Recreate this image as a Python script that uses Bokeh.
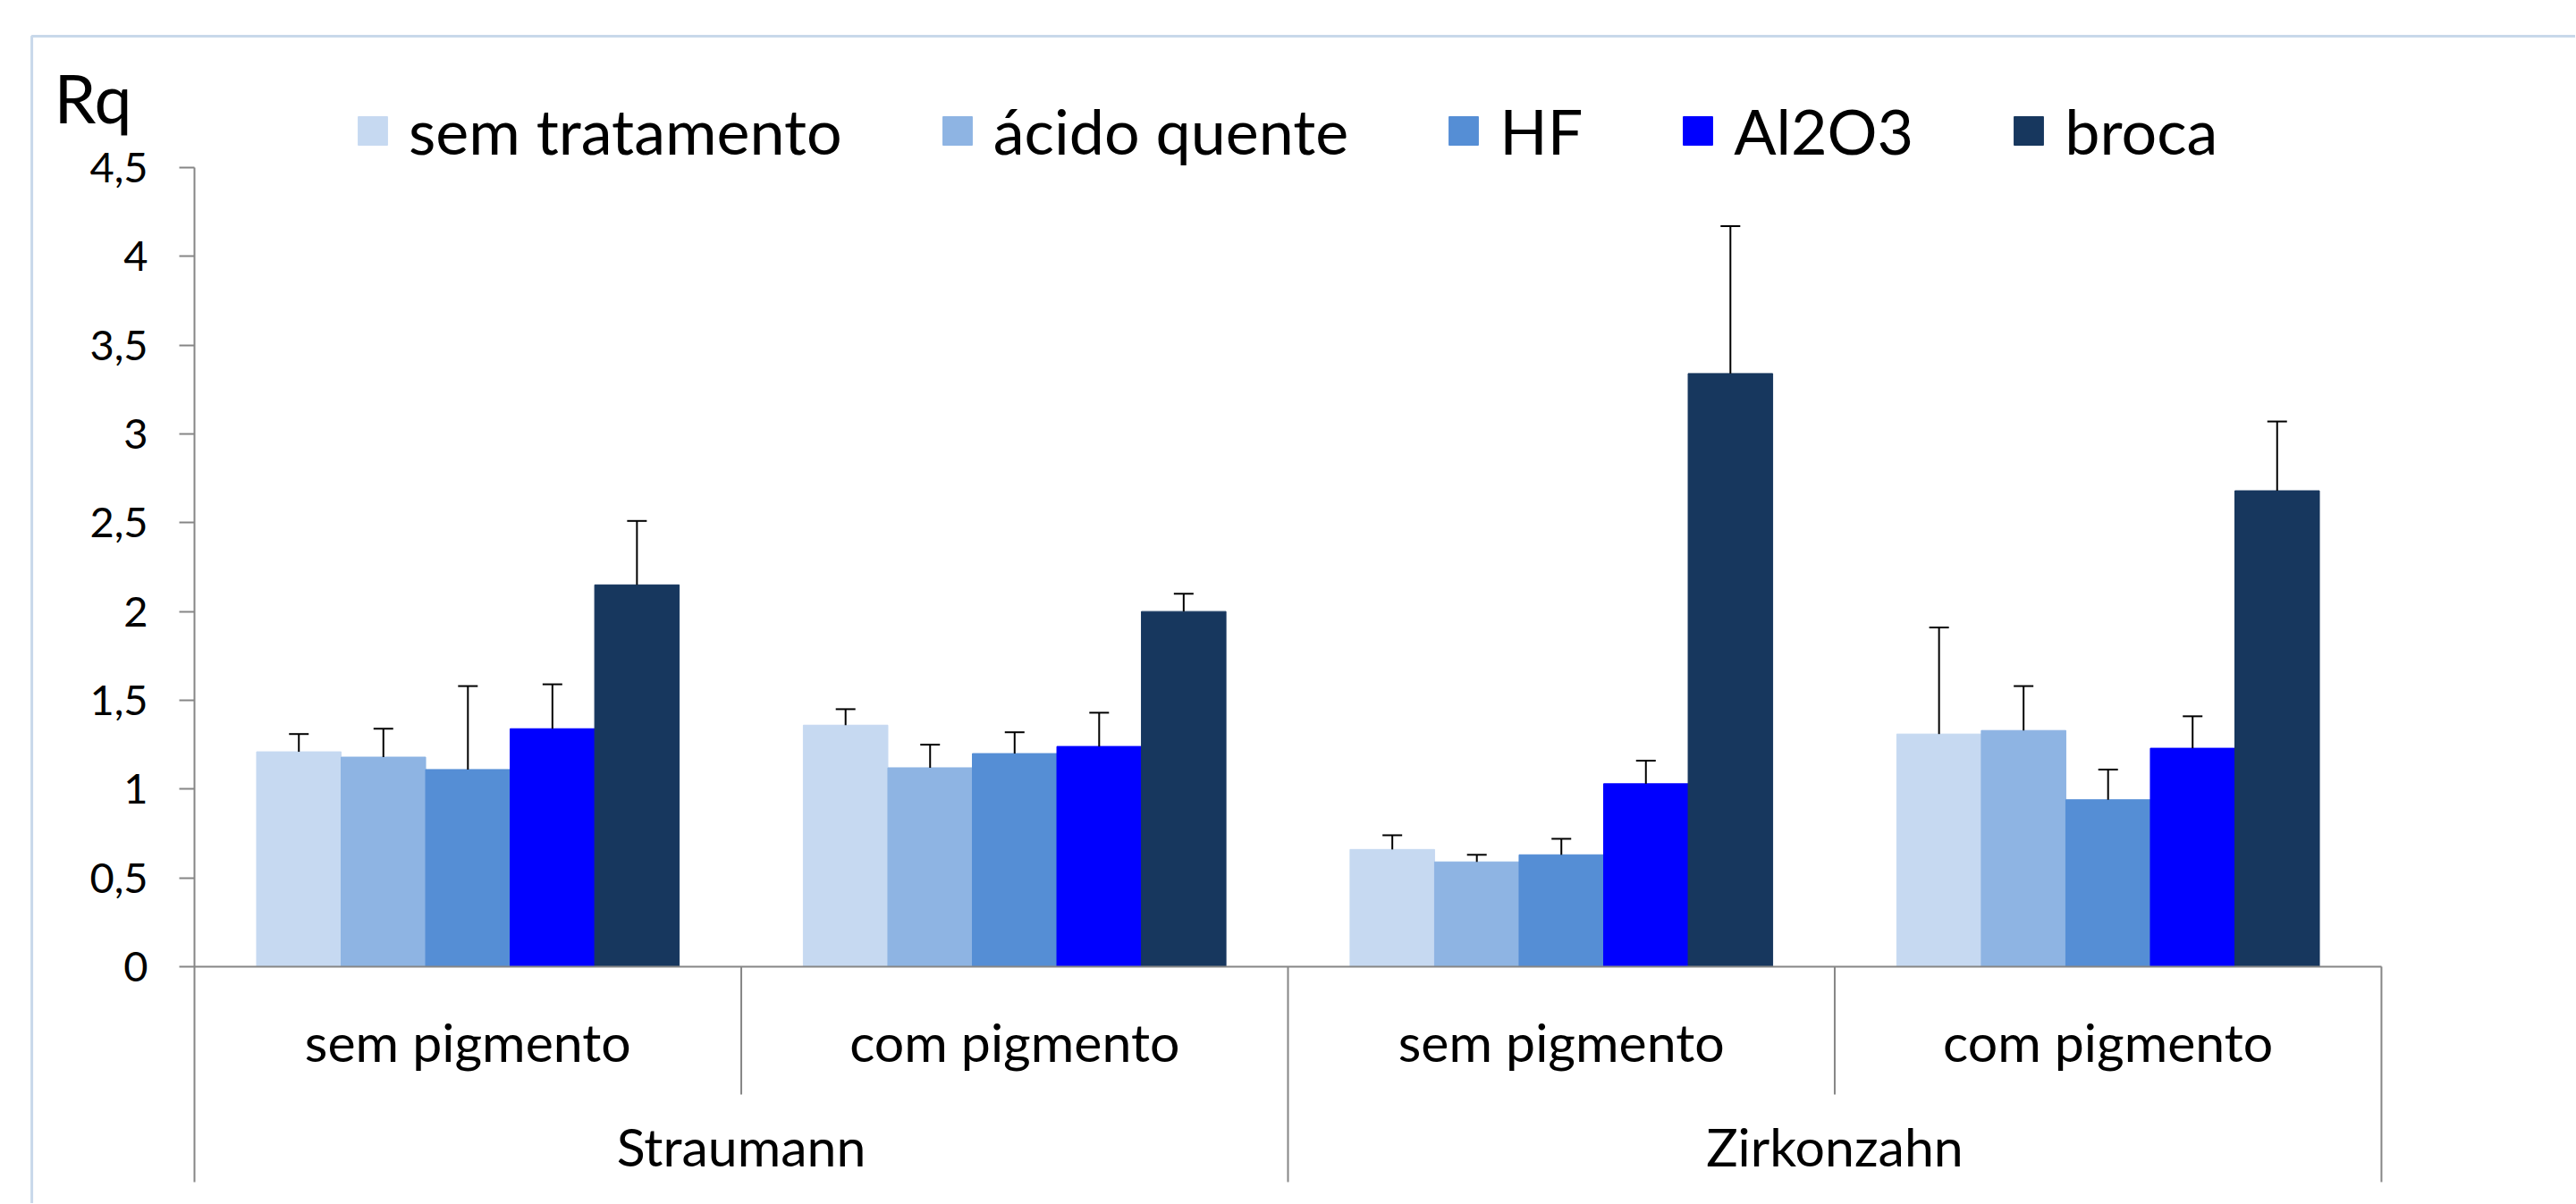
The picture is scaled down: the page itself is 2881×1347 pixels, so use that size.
from bokeh.plotting import figure
from bokeh.models import (FactorRange, Range1d, FixedTicker, CustomJSTickFormatter,
                          Whisker, TeeHead, ColumnDataSource, Label, BoxAnnotation)
from bokeh.transform import dodge
from bokeh.embed import file_html
from bokeh.resources import INLINE

# ---------------- data ----------------
brands = ["Straumann", "Straumann", "Zirkonzahn", "Zirkonzahn"]
pigments = ["sem pigmento", "com pigmento", "sem pigmento", "com pigmento"]
treatments = ["sem tratamento", "ácido quente", "HF", "Al2O3", "broca"]
colors = ["#C6D9F1", "#8EB4E3", "#558ED5", "#0000FF", "#17375E"]

sem_tratamento = [1.21, 1.36, 0.66, 1.31]
sem_tratamento_err = [0.10, 0.09, 0.08, 0.60]
acido_quente = [1.18, 1.12, 0.59, 1.33]
acido_quente_err = [0.16, 0.13, 0.04, 0.25]
hf = [1.11, 1.20, 0.63, 0.94]
hf_err = [0.47, 0.12, 0.09, 0.17]
al2o3 = [1.34, 1.24, 1.03, 1.23]
al2o3_err = [0.25, 0.19, 0.13, 0.18]
broca = [2.15, 2.00, 3.34, 2.68]
broca_err = [0.36, 0.10, 0.83, 0.39]

y_ticks = [0, 0.5, 1, 1.5, 2, 2.5, 3, 3.5, 4, 4.5]
y_title = "Rq"

series_values = [sem_tratamento, acido_quente, hf, al2o3, broca]
series_errors = [sem_tratamento_err, acido_quente_err, hf_err, al2o3_err, broca_err]

# ---------------- figure ----------------
FONT = "Lato"
GRAY = "#868686"
W, H = 2880, 1346
factors = list(zip(brands, pigments))

x_range = FactorRange(factors=factors, factor_padding=0, group_padding=0,
                      subgroup_padding=0, range_padding=0.355,
                      range_padding_units="absolute")
y_range = Range1d(-1.334, 5.441)

p = figure(width=W, height=H, x_range=x_range, y_range=y_range,
           output_backend="svg", toolbar_location=None,
           min_border_left=0, min_border_right=0,
           min_border_top=0, min_border_bottom=0)
p.outline_line_color = None
p.xgrid.visible = False
p.ygrid.visible = False
p.background_fill_color = "white"
p.border_fill_color = "white"

group_span = 0.773
bar_w = group_span / len(treatments)

for i, (name, vals, errs, col) in enumerate(zip(treatments, series_values, series_errors, colors)):
    off = (i - (len(treatments) - 1) / 2) * bar_w
    src = ColumnDataSource(dict(cat=factors, val=vals,
                                upper=[v + e for v, e in zip(vals, errs)]))
    p.vbar(x=dodge("cat", off, range=x_range), top="val", width=bar_w, source=src,
           fill_color=col, line_color=col, line_width=1, legend_label=name)
    w = Whisker(base=dodge("cat", off, range=x_range), lower="val", upper="upper",
                source=src, line_color="black", line_width=2, level="glyph",
                upper_head=TeeHead(size=22, line_color="black", line_width=2),
                lower_head=None)
    p.add_layout(w)

# separators below the category axis
SEP_LONG, SEP_SHORT = -1.213, -0.72
sep_x, sep_y = [], []
for i in range(len(factors)):
    last_of_brand = (i == len(factors) - 1) or (brands[i + 1] != brands[i])
    sep_x.append(factors[i])
    sep_y.append(SEP_LONG if last_of_brand else SEP_SHORT)
sep_src = ColumnDataSource(dict(cat=sep_x, y1=sep_y))
p.segment(x0=dodge("cat", 0.5, range=x_range), y0=0,
          x1=dodge("cat", 0.5, range=x_range), y1="y1",
          source=sep_src, line_color=GRAY, line_width=2)

# x axis (categorical) at y=0
xa = p.xaxis[0]
xa.fixed_location = 0
xa.bounds = (0, len(factors))
xa.axis_line_color = GRAY
xa.axis_line_width = 2
xa.major_tick_line_color = None
xa.minor_tick_line_color = None
xa.separator_line_color = None
xa.major_label_text_font = FONT
xa.major_label_text_font_size = "59px"
xa.major_label_text_color = "black"
xa.major_label_standoff = 43
xa.group_text_font = FONT
xa.group_text_font_size = "59px"
xa.group_text_color = "black"
xa.group_text_font_style = "normal"

# y axis at x = 0 (left edge of first category)
ya = p.yaxis[0]
ya.fixed_location = 0
ya.bounds = (SEP_LONG, y_ticks[-1])
ya.ticker = FixedTicker(ticks=y_ticks)
ya.formatter = CustomJSTickFormatter(code="return tick.toString().replace('.', ',')")
ya.axis_line_color = GRAY
ya.axis_line_width = 2
ya.major_tick_line_color = GRAY
ya.major_tick_line_width = 2
ya.major_tick_out = 17
ya.major_tick_in = 0
ya.minor_tick_line_color = None
ya.major_label_text_font = FONT
ya.major_label_text_font_size = "47px"
ya.major_label_text_color = "black"
ya.major_label_standoff = 35

# "Rq" label
p.add_layout(Label(x=60, y=H - 108, x_units="screen", y_units="screen",
                   text=y_title, text_font=FONT,
                   text_font_size="75px", text_color="black",
                   text_baseline="alphabetic", text_align="left"))

# legend
lg = p.legend[0]
lg.location = (396, H - 188)
lg.orientation = "horizontal"
lg.padding = 0
lg.margin = 0
lg.spacing = 108
lg.glyph_width = 41
lg.glyph_height = 40
lg.label_standoff = 20
lg.label_text_font = FONT
lg.label_text_font_size = "70px"
lg.label_text_color = "black"
lg.background_fill_alpha = 0
lg.border_line_color = None

# chart border
p.add_layout(BoxAnnotation(left=-0.2976, right=10, top=5.24, bottom=-10,
                           fill_alpha=0, line_color="#4A7EBB", line_width=3,
                           level="overlay"))

open("out.html", "w").write(file_html(p, INLINE))
